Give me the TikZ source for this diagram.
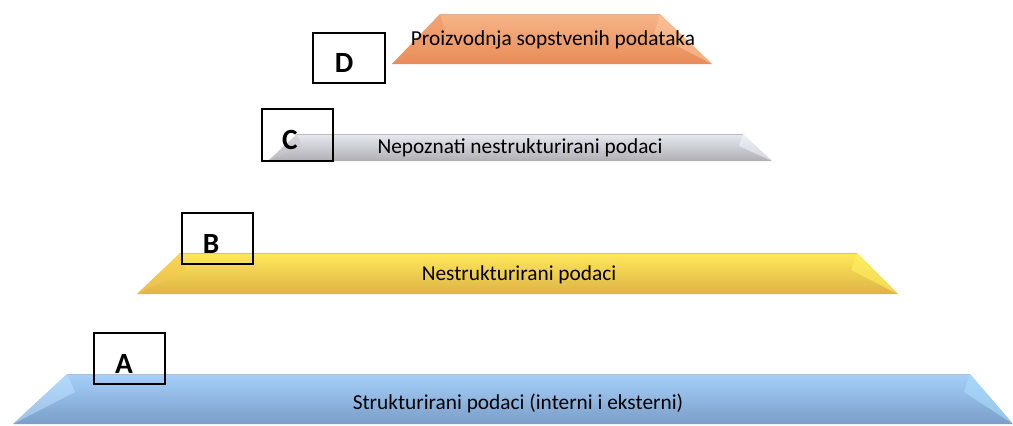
\documentclass[tikz,border=0pt]{standalone}
\usepackage{fontspec}
\setmainfont{Carlito}
% slab palette
\definecolor{aTop}{RGB}{165,208,250}
\definecolor{aMid}{RGB}{140,185,230}
\definecolor{aBot}{RGB}{122,158,200}
\definecolor{aEdge}{RGB}{175,190,205}
\definecolor{aFacL}{RGB}{190,225,255}
\definecolor{aFacR}{RGB}{175,225,255}
\definecolor{bTop}{RGB}{255,232,90}
\definecolor{bMid}{RGB}{245,210,75}
\definecolor{bBot}{RGB}{222,180,70}
\definecolor{bEdge}{RGB}{215,195,120}
\definecolor{bFacL}{RGB}{245,200,80}
\definecolor{bFacR}{RGB}{255,245,100}
\definecolor{cTop}{RGB}{232,232,240}
\definecolor{cMid}{RGB}{185,185,190}
\definecolor{cBot}{RGB}{175,175,180}
\definecolor{cEdge}{RGB}{190,190,190}
\definecolor{cFacL}{RGB}{200,200,205}
\definecolor{cFacR}{RGB}{245,245,255}
\definecolor{dTop}{RGB}{247,180,135}
\definecolor{dMid}{RGB}{240,160,110}
\definecolor{dBot}{RGB}{232,140,88}
\definecolor{dEdge}{RGB}{225,175,140}
\definecolor{dFacL}{RGB}{238,150,100}
\definecolor{dFacR}{RGB}{252,200,160}
\begin{document}
\begin{tikzpicture}[x=0.75pt,y=-0.75pt,
  label/.style={font=\fontsize{16}{18}\selectfont, text=black, inner sep=0pt},
  letter/.style={font=\fontsize{22}{24}\selectfont\bfseries, text=black, inner sep=0pt},
  tagbox/.style={draw=black, line width=1.5pt, inner sep=0pt},
  rim/.style={line width=0.6pt, draw=#1},
  facet/.style={fill=#1, fill opacity=0.55}]
\useasboundingbox (0,0) rectangle (1013,425);

% level A: blue slab
\shade[top color=aTop, middle color=aMid, bottom color=aBot]
  (13,424) -- (67,374) -- (970,374) -- (1013,424) -- cycle;
\draw[rim=aEdge] (67,374.5) -- (970,374.5);
\fill[facet=aFacL] (67,374) -- (75,392) -- (13,424) -- cycle;
\fill[facet=aFacR] (970,374) -- (964,392) -- (1013,424) -- cycle;

% level B: yellow slab
\shade[top color=bTop, middle color=bMid, bottom color=bBot]
  (137,294) -- (180,253) -- (857,253) -- (898,294) -- cycle;
\draw[rim=bEdge] (180,253.5) -- (857,253.5);
\fill[facet=bFacL] (180,253) -- (186,270) -- (137,294) -- cycle;
\fill[facet=bFacR] (857,253) -- (851,270) -- (898,294) -- cycle;

% level C: grey slab
\shade[top color=cTop, middle color=cMid, bottom color=cBot]
  (268,161) -- (297,134) -- (743,134) -- (772,161) -- cycle;
\draw[rim=cEdge] (297,134.5) -- (743,134.5);
\fill[facet=cFacL] (297,134) -- (302,146) -- (268,161) -- cycle;
\fill[facet=cFacR] (743,134) -- (739,146) -- (772,161) -- cycle;

% level D: orange slab
\shade[top color=dTop, middle color=dMid, bottom color=dBot]
  (392,64) -- (440,14) -- (660,14) -- (712,64) -- cycle;
\draw[rim=dEdge] (440,14.5) -- (660,14.5);
\fill[facet=dFacL] (440,14) -- (446,34) -- (392,64) -- cycle;
\fill[facet=dFacR] (660,14) -- (654,34) -- (712,64) -- cycle;

% slab captions
\node[label] (la) at (518,403) {Strukturirani podaci (interni i eksterni)};
\node[label] (lb) at (519,275) {Nestrukturirani podaci};
\node[label] (lc) at (520,148) {Nepoznati nestrukturirani podaci};
\node[label] (ld) at (553,40) {Proizvodnja sopstvenih podataka};

% framed level tags
\node[tagbox, minimum width=53.25pt, minimum height=38.25pt] (ba) at (129.5,358.5) {};
\node[tagbox, minimum width=53.25pt, minimum height=38.25pt] (bb) at (217.5,238.5) {};
\node[tagbox, minimum width=53.25pt, minimum height=39pt] (bc) at (297.5,135) {};
\node[tagbox, minimum width=54pt, minimum height=37.5pt] (bd) at (349,58) {};
\node[letter] (ta) at (124,364) {A};
\node[letter] (tb) at (211,244) {B};
\node[letter] (tc) at (290,140) {C};
\node[letter] (td) at (344,63) {D};
\end{tikzpicture}
\end{document}
